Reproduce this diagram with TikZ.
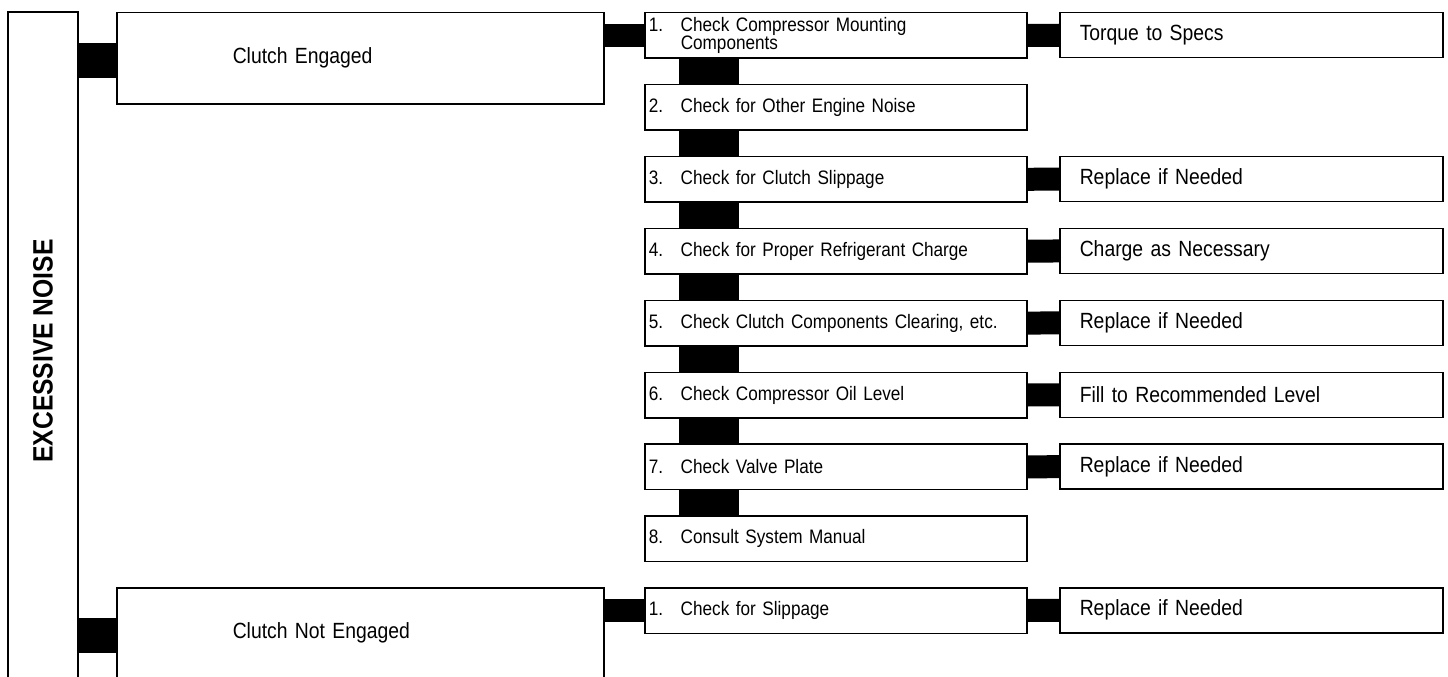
\documentclass[tikz,border=0pt]{standalone}
\usepackage{fontspec}
\setmainfont{Liberation Sans}[FakeStretch=0.88]
\usetikzlibrary{calc}

\newcommand{\stepnum}[1]{\makebox[32pt][l]{#1}}

\begin{document}
\begin{tikzpicture}[x=1pt,y=-1pt,
    box/.style={draw,line width=1.5pt,rectangle,inner ysep=0pt,align=left,anchor=north west},
    stepbox/.style={box,inner xsep=4pt,text width=374pt,minimum height=45.5pt,font=\fontsize{19.5}{17}\selectfont},
    fixbox/.style={box,inner xsep=20pt,text width=343pt,minimum height=45pt,font=\fontsize{22}{24}\selectfont},
    casebox/.style={box,inner xsep=116pt,text width=255pt,minimum height=91pt,font=\fontsize{22}{24}\selectfont},
    bar/.style={draw,line width=#1}]

    \useasboundingbox (0,0) rectangle (1448,677);
    \clip (0,0) rectangle (1448,677); % the lowest boxes run off the page

    \node[draw,line width=1.5pt,rotate=90,inner sep=0pt,minimum width=678pt,minimum height=70pt,
          font=\fontsize{28}{30}\selectfont\bfseries] (Noise) at (43,351) {EXCESSIVE NOISE};

    \node[casebox] (Engaged) at (116,12) {Clutch Engaged};
    \node[casebox] (NotEngaged) at (116,587) {Clutch Not Engaged};

    \foreach \k/\txt in {1/{\stepnum{1.}Check Compressor Mounting\\\hspace*{32pt}Components},
                         2/{\stepnum{2.}Check for Other Engine Noise},
                         3/{\stepnum{3.}Check for Clutch Slippage},
                         4/{\stepnum{4.}Check for Proper Refrigerant Charge},
                         5/{\stepnum{5.}Check Clutch Components Clearing, etc.},
                         6/{\stepnum{6.}Check Compressor Oil Level},
                         7/{\stepnum{7.}Check Valve Plate},
                         8/{\stepnum{8.}Consult System Manual}}{%
      \node[stepbox] (Check\k) at (644,{12+71.9*(\k-1)}) {\txt};
    }
    \foreach \k/\txt in {1/Torque to Specs,3/Replace if Needed,4/Charge as Necessary,
                         5/Replace if Needed,6/Fill to Recommended Level,7/Replace if Needed}{%
      \node[fixbox] (Fix\k) at (1059,{12+71.9*(\k-1)}) {\txt};
    }

    \node[stepbox] (Slip) at (644,587) {\stepnum{1.}Check for Slippage};
    \node[fixbox] (SlipFix) at (1059,587) {Replace if Needed};

    % black bars between the boxes
    \draw[bar=35pt] ($(Noise.south |- Engaged.west)+(0,2)$) -- ($(Engaged.west)+(0,2)$);
    \draw[bar=35pt] ($(Noise.south |- NotEngaged.west)+(0,2)$) -- ($(NotEngaged.west)+(0,2)$);
    \draw[bar=23pt] (Engaged.east |- Check1.west) -- (Check1.west);
    \draw[bar=23pt] (NotEngaged.east |- Slip.west) -- (Slip.west);
    \draw[bar=23pt] (Slip.east) -- (SlipFix.west);
    \foreach \k in {1,3,4,5,6,7}{%
      \draw[bar=23pt] (Check\k.east) -- (Fix\k.west);
    }
    \foreach \k in {1,...,7}{%
      \pgfmathtruncatemacro{\n}{\k+1}
      \draw[bar=60pt] ($(Check\k.south west)+(65,0)$) -- ($(Check\n.north west)+(65,0)$);
    }
\end{tikzpicture}
\end{document}
